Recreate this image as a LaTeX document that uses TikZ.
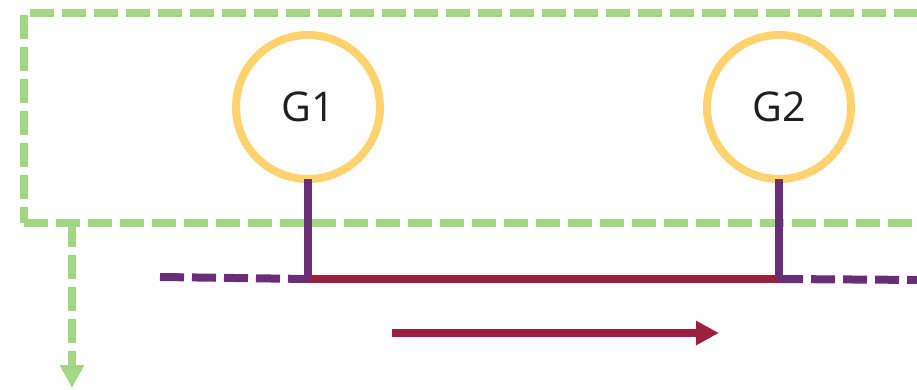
\documentclass[tikz,border=0pt]{standalone}
\usepackage{fontspec}
\setmainfont{Open Sans}
\usetikzlibrary{arrows.meta}
\definecolor{grp}{RGB}{162,216,132}
\definecolor{gen}{RGB}{254,210,110}
\definecolor{bus}{RGB}{106,46,120}
\definecolor{flow}{RGB}{155,32,64}
\definecolor{txt}{RGB}{30,30,30}
\begin{document}
\begin{tikzpicture}[x=1pt,y=-1pt,
  genbox/.style={circle,draw=gen,line width=8pt,fill=white,minimum size=144pt,inner sep=0pt,
    font=\fontsize{41}{41}\selectfont,text=txt},
  grpline/.style={draw=grp,line width=8pt,dash pattern=on 24pt off 8pt},
  busline/.style={draw=bus,line width=8pt},
  busdash/.style={busline,dash pattern=on 24pt off 8pt},
  flowline/.style={draw=flow,line width=8pt}]
\useasboundingbox (0,0) rectangle (917,390);

% generator group boundary (open to the right)
\coordinate (gtl) at (30,13);
\coordinate (gtr) at (940,13);
\coordinate (glt) at (24,15);
\coordinate (glb) at (24,223);
\coordinate (gbr) at (940,223);
\path[grpline] (gtl) -- (gtr);
\path[grpline] (glt) -- (glb);
\path[grpline] (glb) -- (gbr);

% export arrow out of the group
\coordinate (gout) at (72,223);
\coordinate (gend) at (72,388);
\path[grpline,-{Triangle[length=23pt 0,width=23pt 0]}] (gout) -- (gend);

% generators
\node[genbox] (G1) at (308,107) {G1};
\node[genbox] (G2) at (779,107) {G2};

% bus junctions
\coordinate (j1) at (308,279);
\coordinate (j2) at (779,279);
\coordinate (bl) at (160,277);
\coordinate (br) at (925,280);

\path[flowline] (j1) -- (j2);
\path[busdash] (bl) -- (j1);
\path[busdash] (j2) -- (br);
\path[busline] ([yshift=4pt]G1.south) -- ([yshift=-1pt]j1);
\path[busline] ([yshift=4pt]G2.south) -- ([yshift=-1pt]j2);

% power flow direction
\coordinate (fa) at (392,333);
\coordinate (fb) at (719,333);
\path[flowline,-{Triangle[length=23pt 0,width=23pt 0]}] (fa) -- (fb);
\end{tikzpicture}
\end{document}
